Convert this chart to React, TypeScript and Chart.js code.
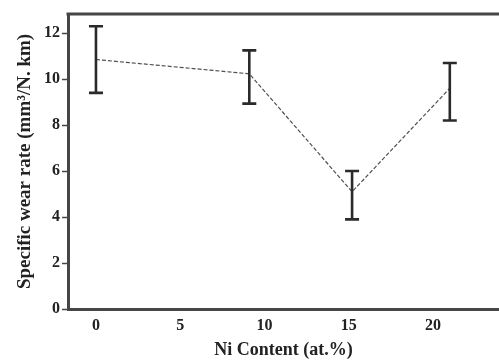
import React, { useEffect, useRef } from "react";
import { Chart, registerables } from "chart.js";

Chart.register(...registerables);

const niContent = [0, 9.1, 15.2, 21.0];
const wearRate = [10.85, 10.23, 5.1, 9.6];
const errLow = [9.4, 8.93, 3.9, 8.2];
const errHigh = [12.3, 11.25, 6.0, 10.7];
const xTicks = [0, 5, 10, 15, 20];
const yTicks = [0, 2, 4, 6, 8, 10, 12];

const AXIS_COLOR = "#464646";
const TEXT_COLOR = "#222222";
const FONT = "'Liberation Serif', 'Times New Roman', serif";

const errorBarPlugin = {
  id: "errorBars",
  afterDatasetsDraw(chart: any) {
    const { ctx, scales } = chart;
    const xs = scales.x;
    const ys = scales.y;
    ctx.save();
    ctx.strokeStyle = "#2a2a2a";
    ctx.lineWidth = 2.6;
    ctx.lineCap = "butt";
    for (let i = 0; i < niContent.length; i++) {
      const px = xs.getPixelForValue(niContent[i]);
      const pLo = ys.getPixelForValue(errLow[i]);
      const pHi = ys.getPixelForValue(errHigh[i]);
      ctx.beginPath();
      ctx.moveTo(px, pLo);
      ctx.lineTo(px, pHi);
      ctx.moveTo(px - 7, pLo);
      ctx.lineTo(px + 7, pLo);
      ctx.moveTo(px - 7, pHi);
      ctx.lineTo(px + 7, pHi);
      ctx.stroke();
    }
    ctx.restore();
  },
  afterDraw(chart: any) {
    const { ctx, chartArea } = chart;
    ctx.save();
    ctx.strokeStyle = AXIS_COLOR;
    ctx.lineWidth = 3;
    ctx.beginPath();
    ctx.moveTo(chartArea.left - 1.5, chartArea.top);
    ctx.lineTo(chartArea.right + 2, chartArea.top);
    ctx.stroke();
    ctx.restore();
  },
};

export default function App() {
  const ref = useRef<HTMLCanvasElement | null>(null);

  useEffect(() => {
    if (!ref.current) return;
    const chart = new Chart(ref.current, {
      type: "scatter",
      data: {
        datasets: [
          {
            data: niContent.map((x, i) => ({ x, y: wearRate[i] })),
            showLine: true,
            borderColor: "#505050",
            borderWidth: 1.2,
            borderDash: [4, 2],
            pointRadius: 0,
            pointHoverRadius: 0,
            fill: false,
          },
        ],
      },
      options: {
        responsive: false,
        animation: false,
        devicePixelRatio: 1,
        layout: { padding: { top: 14, right: 0, left: 0, bottom: 0 } },
        plugins: {
          legend: { display: false },
          tooltip: { enabled: false },
        },
        scales: {
          x: {
            type: "linear",
            min: -1.66,
            max: 23.92,
            afterBuildTicks: (scale: any) => {
              scale.ticks = xTicks.map((v) => ({ value: v }));
            },
            afterFit: (scale: any) => {
              scale.height = 52;
            },
            grid: { display: false, drawTicks: false },
            border: { display: true, color: AXIS_COLOR, width: 3 },
            ticks: {
              padding: 7,
              color: TEXT_COLOR,
              font: { family: FONT, size: 16, weight: "bold" },
            },
            title: {
              display: true,
              text: "Ni Content (at.%)",
              color: TEXT_COLOR,
              font: { family: FONT, size: 18, weight: "bold" },
              padding: { top: 0, bottom: 0 },
            },
          },
          y: {
            type: "linear",
            min: 0,
            max: 12.83,
            afterBuildTicks: (scale: any) => {
              scale.ticks = yTicks.map((v) => ({ value: v }));
            },
            afterFit: (scale: any) => {
              scale.width = 68;
            },
            grid: {
              display: true,
              drawOnChartArea: false,
              drawTicks: true,
              tickLength: 6,
              tickWidth: 1.5,
              tickColor: AXIS_COLOR,
            },
            border: { display: true, color: AXIS_COLOR, width: 3 },
            ticks: {
              padding: 2,
              color: TEXT_COLOR,
              font: { family: FONT, size: 16, weight: "bold" },
            },
            title: {
              display: true,
              text: "Specific wear rate (mm³/N. km)",
              color: TEXT_COLOR,
              font: { family: FONT, size: 19, weight: "bold" },
              padding: { top: 14, bottom: 0 },
            },
          },
        },
      },
      plugins: [errorBarPlugin],
    });
    return () => chart.destroy();
  }, []);

  return (
    <div style={{ position: "absolute", left: 0, top: 0, width: 499, height: 361, background: "#ffffff" }}>
      <canvas ref={ref} width={499} height={361} style={{ display: "block" }} />
    </div>
  );
}
